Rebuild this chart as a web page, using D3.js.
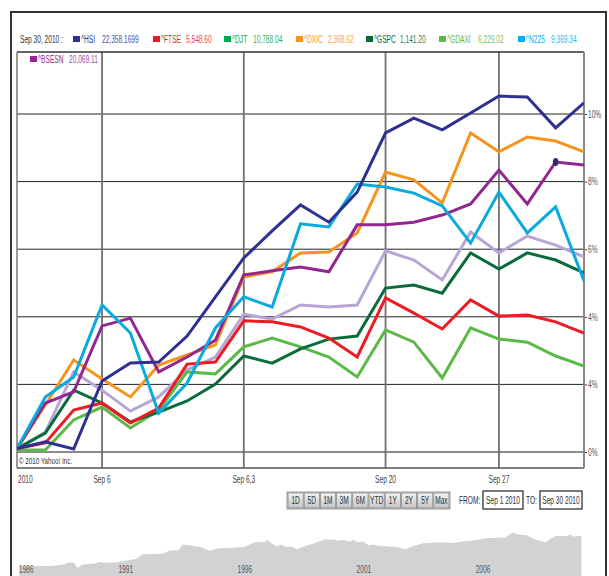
<!DOCTYPE html>
<html>
<head>
<meta charset="utf-8">
<script src="https://cdn.jsdelivr.net/npm/d3@7"></script>
<style>
  body { margin: 0; background: #fff; }
  text { font-family: "Liberation Sans", Arial, sans-serif; }
</style>
</head>
<body>
<script>
// trading days of Sep 2010, index 0..20
const dayCount = 21;
const dateTicks = [0, 3, 8, 13, 17];
const dateLabels = ["2010", "Sep 6", "Sep 6,3", "Sep 20", "Sep 27"];
const pctTicks = [0, 2, 4, 6, 8, 10];
const pctLabels = ["0%", "4%", "4%", "6%", "8%", "10%"];

const symbols = ["^HSI", "^FTSE", "^DJT", "^DXIC", "^GSPC", "^GDAXI", "^N225", "^BSESN"];
const lastValues = ["22,358.1699", "5,548.60", "10,788.04", "2,368.62", "1,141.20", "6,229.02", "9,369.34", "20,069.11"];
const legendColors = ["#2e3192", "#ed1c24", "#00a651", "#f7941d", "#006838", "#5bb947", "#00aeef", "#92278f"];
const lineColors = ["#2e3192", "#ed1c24", "#b7a5d6", "#f7941d", "#0b6b3a", "#5bb947", "#0aa9e0", "#92278f"];

// % change since Sep 1
const hsi   = [0.1, 0.30, 0.09, 2.10, 2.63, 2.66, 3.43, 4.59, 5.74, 6.54, 7.31, 6.80, 7.69, 9.44, 9.88, 9.53, 10.03, 10.53, 10.50, 9.59, 10.33];
const ftse  = [0.1, 0.27, 1.24, 1.45, 0.86, 1.30, 2.60, 2.66, 3.88, 3.85, 3.70, 3.37, 2.81, 4.56, 4.11, 3.64, 4.50, 4.02, 4.05, 3.85, 3.52];
const djt   = [0.1, 0.59, 2.37, 1.83, 1.21, 1.63, 2.43, 2.81, 4.08, 3.93, 4.35, 4.29, 4.35, 5.95, 5.68, 5.09, 6.51, 5.89, 6.39, 6.12, 5.77];
const dxic  = [0.1, 1.39, 2.72, 2.16, 1.63, 2.57, 2.87, 3.17, 5.18, 5.33, 5.89, 5.92, 6.48, 8.28, 8.05, 7.37, 9.44, 8.88, 9.32, 9.20, 8.88];
const gspc  = [0.1, 0.56, 1.83, 1.45, 0.89, 1.18, 1.51, 2.01, 2.84, 2.63, 3.05, 3.34, 3.43, 4.85, 4.94, 4.70, 5.89, 5.41, 5.89, 5.68, 5.30];
const gdaxi = [0.06, 0.06, 0.95, 1.33, 0.71, 1.24, 2.37, 2.31, 3.11, 3.37, 3.11, 2.81, 2.22, 3.61, 3.25, 2.19, 3.67, 3.34, 3.25, 2.84, 2.54];
const n225  = [0.1, 1.63, 2.22, 4.35, 3.52, 1.15, 2.04, 3.67, 4.59, 4.29, 6.75, 6.66, 7.93, 7.84, 7.66, 7.28, 6.18, 7.69, 6.48, 7.25, 5.06];
const bsesn = [0.1, 1.45, 1.78, 3.73, 3.96, 2.37, 2.81, 3.31, 5.24, 5.36, 5.47, 5.33, 6.72, 6.72, 6.80, 7.01, 7.34, 8.34, 7.34, 8.58, 8.49];
const seriesValues = [hsi, ftse, djt, dxic, gspc, gdaxi, n225, bsesn];
const drawOrder = [2, 5, 4, 1, 3, 7, 6, 0];
const markerSeries = 7, markerDay = 19;

// long range navigator (HSI since 1986)
const navYears = [1986.84, 1987.66, 1988.15, 1988.72, 1988.96, 1989.13, 1989.29, 1989.48, 1989.94, 1990.24,
  1990.43, 1990.92, 1991.41, 1991.73, 1992.03, 1992.55, 1992.88, 1993.12, 1993.53, 1993.69,
  1994.02, 1994.43, 1994.83, 1995.16, 1995.81, 1996.30, 1996.63, 1996.79, 1997.12, 1997.25,
  1997.44, 1997.64, 1997.85, 1998.01, 1998.26, 1998.50, 1998.91, 1999.24, 1999.64, 2000.05,
  2000.21, 2000.46, 2000.70, 2000.87, 2001.03, 2001.27, 2001.52, 2001.68, 2001.92, 2002.33,
  2002.66, 2003.07, 2003.31, 2003.80, 2004.29, 2004.70, 2005.02, 2005.43, 2005.84, 2006.49,
  2007.23, 2007.55, 2007.80, 2008.12, 2008.45, 2008.69, 2008.93, 2009.15, 2009.34, 2009.83,
  2009.99, 2010.08, 2010.44];
const navLevels = [9.4, 10, 10, 11.6, 13.8, 13.2, 7.8, 11.6, 12.2, 14.1,
  13.2, 13.8, 15.7, 17, 21.7, 22, 22.6, 25.2, 25.8, 31.5,
  30.5, 29, 25.2, 27.4, 28.3, 29, 32.8, 34, 33.7, 35.9,
  32.8, 29.6, 31.5, 29, 29.6, 26.7, 30.5, 32.8, 36.5, 36.5,
  35.3, 35.9, 34.6, 35.9, 33.7, 34.6, 30.5, 31.5, 30.2, 29.6,
  29, 26.7, 29.6, 32.8, 33.4, 33.7, 33.1, 34.6, 35.3, 37.8,
  38.4, 43.5, 41.6, 41, 36.9, 35.3, 33.4, 37.2, 40, 40,
  41.6, 39.4, 40];
const navTickYears = [1986, 1991, 1996, 2001, 2006];

const rangeButtons = ["1D", "5D", "1M", "3M", "6M", "YTD", "1Y", "2Y", "5Y", "Max"];
const fromLabel = "Sep 1  2010", toLabel = "Sep 30  2010";

const width = 609, height = 576;
const plot = { left: 17, right: 584, top: 52, bottom: 468 };

const svg = d3.select("body")
  .append("svg")
  .attr("width", width)
  .attr("height", height);

// outer frame
svg.append("rect")
  .attr("x", 11).attr("y", 12)
  .attr("width", 595).attr("height", 580)
  .attr("fill", "none")
  .attr("stroke", "#333")
  .attr("stroke-width", 2);

let xScale = d3.scaleLinear([0, dayCount - 1], [plot.left, plot.right]);
let yScale = d3.scaleLinear([0, 10], [452, 114]);

svg.append("clipPath")
  .attr("id", "chart-area")
  .append("rect")
  .attr("x", plot.left).attr("y", plot.top)
  .attr("width", plot.right - plot.left)
  .attr("height", plot.bottom - plot.top);

// horizontal grid + right axis
const yAxis = d3.axisRight(yScale)
  .tickValues(pctTicks)
  .tickSize(3)
  .tickFormat((d, i) => pctLabels[i]);
const yg = svg.append("g")
  .attr("transform", `translate(${plot.right},0)`)
  .call(yAxis);
yg.select(".domain").remove();
yg.selectAll(".tick line").attr("stroke", "#333");
yg.selectAll(".tick text")
  .attr("x", 4)
  .attr("fill", "#555")
  .style("font-size", "10px");

svg.append("g")
  .selectAll("line")
  .data(pctTicks)
  .join("line")
  .attr("x1", plot.left).attr("x2", plot.right)
  .attr("y1", d => yScale(d)).attr("y2", d => yScale(d))
  .attr("stroke", d => d === 0 ? "#666" : "#222")
  .attr("stroke-width", d => d === 0 ? 1.5 : 1);

// vertical grid
svg.append("g")
  .selectAll("line")
  .data(dateTicks.slice(1))
  .join("line")
  .attr("x1", d => xScale(d)).attr("x2", d => xScale(d))
  .attr("y1", plot.top).attr("y2", plot.bottom)
  .attr("stroke", "#6f6f6f")
  .attr("stroke-width", 1.8);

// plot border
svg.append("line")
  .attr("x1", plot.left).attr("x2", plot.right)
  .attr("y1", plot.top).attr("y2", plot.top)
  .attr("stroke", "#333").attr("stroke-width", 1.5);
svg.append("line")
  .attr("x1", plot.left).attr("x2", plot.right)
  .attr("y1", plot.bottom).attr("y2", plot.bottom)
  .attr("stroke", "#555").attr("stroke-width", 1.5);
svg.append("line")
  .attr("x1", plot.left).attr("x2", plot.left)
  .attr("y1", plot.top).attr("y2", plot.bottom)
  .attr("stroke", "#777").attr("stroke-width", 1.5);
svg.append("line")
  .attr("x1", plot.right).attr("x2", plot.right)
  .attr("y1", plot.top).attr("y2", plot.bottom)
  .attr("stroke", "#888").attr("stroke-width", 2);

// date labels
svg.append("g")
  .selectAll("text")
  .data(dateTicks)
  .join("text")
  .attr("x", d => d === 0 ? plot.left + 1 : xScale(d))
  .attr("y", 483)
  .attr("text-anchor", d => d === 0 ? "start" : "middle")
  .attr("fill", "#444")
  .style("font-size", "10px")
  .text((d, i) => dateLabels[i]);

// copyright
svg.append("text")
  .attr("x", plot.left + 2)
  .attr("y", 464)
  .attr("fill", "#333")
  .style("font-size", "9.5px")
  .text("\u00a9 2010 Yahoo! Inc.");

// lines
let line = d3.line()
  .x((d, i) => xScale(i))
  .y(d => yScale(d));

for (let k = 0; k < drawOrder.length; k++) {
  const s = drawOrder[k];
  svg.append("path")
    .datum(seriesValues[s])
    .attr("clip-path", "url(#chart-area)")
    .attr("fill", "none")
    .attr("stroke", lineColors[s])
    .attr("stroke-width", 3)
    .attr("stroke-linejoin", "miter")
    .attr("d", line);
}

svg.append("ellipse")
  .attr("cx", xScale(markerDay))
  .attr("cy", yScale(seriesValues[markerSeries][markerDay]))
  .attr("rx", 2.8).attr("ry", 4)
  .attr("fill", "#2b2d6e");

// legend
svg.append("text")
  .attr("x", 20).attr("y", 43)
  .attr("fill", "#333")
  .style("font-size", "10px")
  .text("Sep 30, 2010 :");

const legendX = [73, 153, 224, 296, 366, 439, 518, 30];
const legendValueX = [102, 186, 253, 328, 400, 478, 551, 69];
const legendY = [43, 43, 43, 43, 43, 43, 43, 63];

function addLegendItem(i) {
  const g = svg.append("g");
  g.append("rect")
    .attr("x", legendX[i]).attr("y", legendY[i] - 7)
    .attr("width", 7).attr("height", 6)
    .attr("fill", legendColors[i]);
  g.append("text")
    .attr("x", legendX[i] + 8).attr("y", legendY[i])
    .attr("fill", legendColors[i])
    .style("font-size", "10px")
    .text(symbols[i]);
  g.append("text")
    .attr("x", legendValueX[i]).attr("y", legendY[i])
    .attr("fill", legendColors[i])
    .attr("opacity", 0.85)
    .style("font-size", "10px")
    .text(lastValues[i]);
}
for (let i = 0; i < symbols.length; i++) addLegendItem(i);

// range buttons
const grad = svg.append("defs").append("linearGradient")
  .attr("id", "btn").attr("x1", 0).attr("y1", 0).attr("x2", 0).attr("y2", 1);
grad.append("stop").attr("offset", "0%").attr("stop-color", "#f4f4f4");
grad.append("stop").attr("offset", "100%").attr("stop-color", "#c4c4c4");

const btnX = d3.scaleBand(rangeButtons, [288, 449]).paddingInner(0.06);
svg.append("rect")
  .attr("x", 287).attr("y", 492)
  .attr("width", 163).attr("height", 17)
  .attr("fill", "#ddd").attr("stroke", "#999");
const btns = svg.append("g")
  .selectAll("g")
  .data(rangeButtons)
  .join("g");
btns.append("rect")
  .attr("x", d => btnX(d)).attr("y", 493)
  .attr("width", btnX.bandwidth()).attr("height", 15)
  .attr("fill", "url(#btn)")
  .attr("stroke", "#8a8a8a").attr("stroke-width", 0.8);
btns.append("text")
  .attr("x", d => btnX(d) + btnX.bandwidth() / 2)
  .attr("y", 504)
  .attr("text-anchor", "middle")
  .attr("fill", "#333")
  .style("font-size", "10px")
  .text(d => d);

// date range boxes
svg.append("text")
  .attr("x", 459).attr("y", 504)
  .attr("fill", "#333").style("font-size", "10px")
  .text("FROM:");
svg.append("rect")
  .attr("x", 483).attr("y", 491).attr("width", 40).attr("height", 18)
  .attr("fill", "#fff").attr("stroke", "#222").attr("stroke-width", 1.2);
svg.append("text")
  .attr("x", 503).attr("y", 504).attr("text-anchor", "middle")
  .attr("fill", "#333").style("font-size", "10px")
  .text(fromLabel);
svg.append("text")
  .attr("x", 526).attr("y", 504)
  .attr("fill", "#333").style("font-size", "10px")
  .text("TO:");
svg.append("rect")
  .attr("x", 540).attr("y", 491).attr("width", 42).attr("height", 18)
  .attr("fill", "#fff").attr("stroke", "#222").attr("stroke-width", 1.2);
svg.append("text")
  .attr("x", 561).attr("y", 504).attr("text-anchor", "middle")
  .attr("fill", "#333").style("font-size", "10px")
  .text(toLabel);

// navigator
let navX = d3.scaleLinear([1991, 2006], [118.4, 475.7]);
let navY = d3.scaleLinear([0, 50], [576, 526]);
const navData = navYears.map((y, i) => [y, navLevels[i]]);
const navArea = d3.area()
  .x(d => navX(d[0]))
  .y0(navY(-5))
  .y1(d => navY(d[1]));
svg.append("path")
  .datum(navData)
  .attr("d", navArea)
  .attr("fill", "#d1d2d4");

svg.append("g")
  .selectAll("text")
  .data(navTickYears)
  .join("text")
  .attr("x", d => Math.max(19, navX(d)))
  .attr("y", 573)
  .attr("fill", "#555")
  .style("font-size", "10px")
  .text(d => d);

// the original uses a condensed face: squeeze every label horizontally
// around its own anchor x
svg.selectAll("text").each(function () {
  const t = d3.select(this);
  const x = +t.attr("x") || 0;
  t.attr("transform", `translate(${x},0) scale(0.66,1) translate(${-x},0)`);
});
</script>
</body>
</html>
